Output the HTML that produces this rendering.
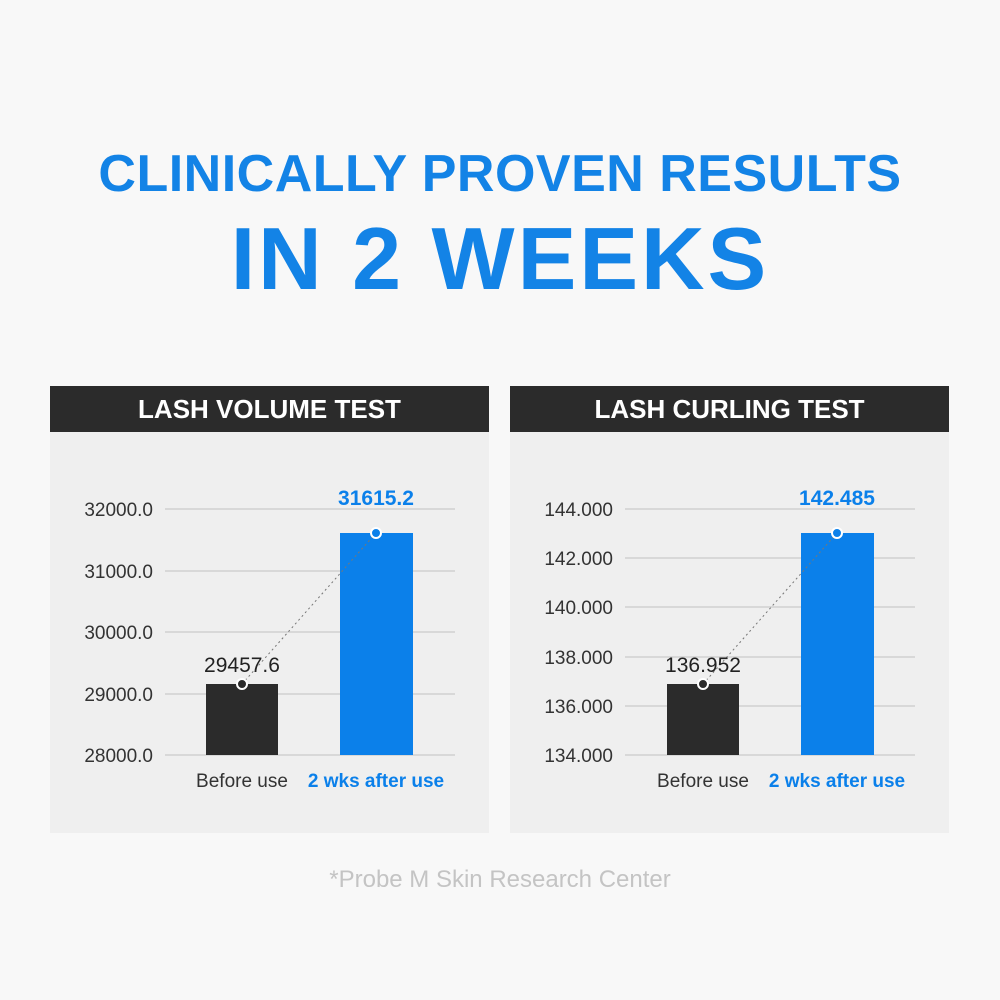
<!DOCTYPE html>
<html><head><style>
body{margin:0;width:1000px;height:1000px;background:#f8f8f8;font-family:"Liberation Sans",sans-serif;position:relative;overflow:hidden}
.t{position:absolute;left:0;width:1000px;text-align:center;color:#1383e6;font-weight:bold}
</style></head><body>
<div class="t" style="top:144px;font-size:52px;letter-spacing:0.5px">CLINICALLY PROVEN RESULTS</div>
<div class="t" style="top:208px;font-size:88px;letter-spacing:3px">IN 2 WEEKS</div>
<svg width="1000" height="1000" style="position:absolute;left:0;top:0" font-family="Liberation Sans, sans-serif">
<g>
<rect x="50" y="386" width="439" height="447" fill="#efefef"/>
<rect x="50" y="386" width="439" height="46" fill="#2b2b2b"/>
<text x="269.5" y="418" fill="#fff" font-size="26" text-anchor="middle" font-weight="bold">LASH VOLUME TEST</text>
<g stroke="#d0d0d0" stroke-width="1.5"><line x1="165" x2="455" y1="509" y2="509"/><line x1="165" x2="455" y1="571" y2="571"/><line x1="165" x2="455" y1="632" y2="632"/><line x1="165" x2="455" y1="694" y2="694"/><line x1="165" x2="455" y1="755" y2="755"/></g>
<g font-size="19" fill="#333" text-anchor="end"><text x="153" y="516">32000.0</text><text x="153" y="578">31000.0</text><text x="153" y="639">30000.0</text><text x="153" y="701">29000.0</text><text x="153" y="762">28000.0</text></g>
<rect x="206" y="684" width="72" height="71" fill="#2b2b2b"/>
<rect x="340" y="533" width="73" height="222" fill="#0b80ea"/>
<line x1="242" y1="684" x2="376" y2="533" stroke="#777" stroke-dasharray="2,3"/>
<circle cx="242" cy="684" r="5" fill="#2b2b2b" stroke="#fff" stroke-width="2"/>
<circle cx="376" cy="533" r="5" fill="#0b80ea" stroke="#fff" stroke-width="2"/>
<text x="242" y="672" font-size="21" fill="#222" text-anchor="middle">29457.6</text>
<text x="376" y="505" font-size="21" fill="#0b80ea" text-anchor="middle" font-weight="bold">31615.2</text>
<text x="242" y="787" font-size="19" fill="#333" text-anchor="middle">Before use</text>
<text x="376" y="787" font-size="19" fill="#0b80ea" text-anchor="middle" font-weight="bold">2 wks after use</text>
</g>
<g>
<rect x="510" y="386" width="439" height="447" fill="#efefef"/>
<rect x="510" y="386" width="439" height="46" fill="#2b2b2b"/>
<text x="729.5" y="418" fill="#fff" font-size="26" text-anchor="middle" font-weight="bold">LASH CURLING TEST</text>
<g stroke="#d0d0d0" stroke-width="1.5"><line x1="625" x2="915" y1="509" y2="509"/><line x1="625" x2="915" y1="558" y2="558"/><line x1="625" x2="915" y1="607" y2="607"/><line x1="625" x2="915" y1="657" y2="657"/><line x1="625" x2="915" y1="706" y2="706"/><line x1="625" x2="915" y1="755" y2="755"/></g>
<g font-size="19" fill="#333" text-anchor="end"><text x="613" y="516">144.000</text><text x="613" y="565">142.000</text><text x="613" y="614">140.000</text><text x="613" y="664">138.000</text><text x="613" y="713">136.000</text><text x="613" y="762">134.000</text></g>
<rect x="667" y="684" width="72" height="71" fill="#2b2b2b"/>
<rect x="801" y="533" width="73" height="222" fill="#0b80ea"/>
<line x1="703" y1="684" x2="837" y2="533" stroke="#777" stroke-dasharray="2,3"/>
<circle cx="703" cy="684" r="5" fill="#2b2b2b" stroke="#fff" stroke-width="2"/>
<circle cx="837" cy="533" r="5" fill="#0b80ea" stroke="#fff" stroke-width="2"/>
<text x="703" y="672" font-size="21" fill="#222" text-anchor="middle">136.952</text>
<text x="837" y="505" font-size="21" fill="#0b80ea" text-anchor="middle" font-weight="bold">142.485</text>
<text x="703" y="787" font-size="19" fill="#333" text-anchor="middle">Before use</text>
<text x="837" y="787" font-size="19" fill="#0b80ea" text-anchor="middle" font-weight="bold">2 wks after use</text>
</g>
<text x="500" y="887" font-size="24" fill="#c4c4c4" text-anchor="middle">*Probe M Skin Research Center</text>
</svg>
</body></html>
